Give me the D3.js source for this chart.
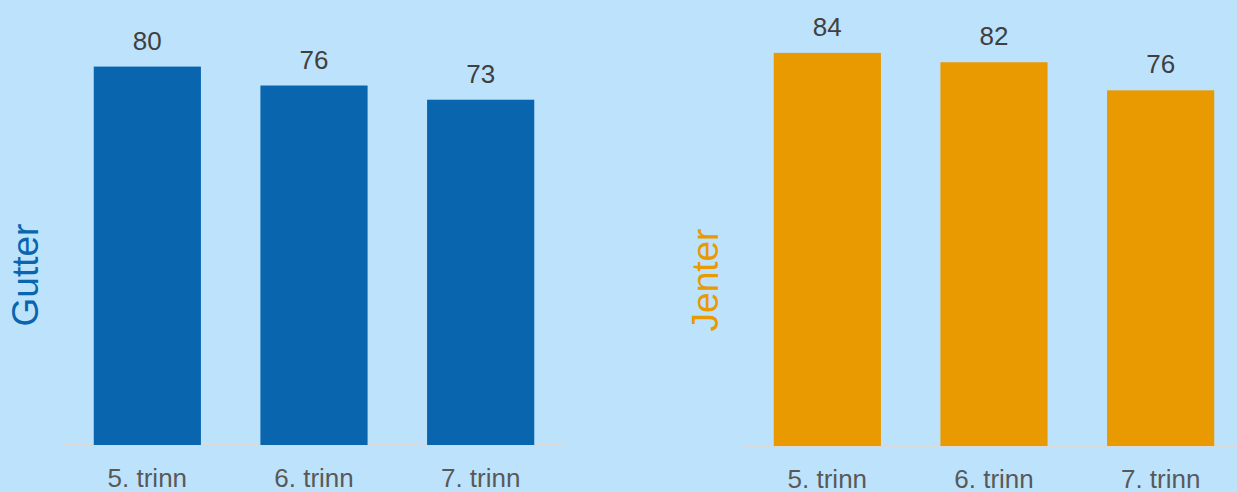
<!DOCTYPE html>
<html>
<head>
<meta charset="utf-8">
<script src="https://cdn.jsdelivr.net/npm/d3@7"></script>
<style>
  body { margin: 0; background: #bde3fc; }
  svg { display: block; font-family: "Liberation Sans", Arial, sans-serif; }
</style>
</head>
<body>
<div id="chart"></div>
<script>
const categories = ["5. trinn", "6. trinn", "7. trinn"]
const gutterValues = [80, 76, 73]
const jenterValues = [84, 82, 76]

const W = 1237, H = 492

let svg = d3.select("#chart").append("svg")
  .attr("width", W)
  .attr("height", H)

svg.append("rect")
  .attr("width", W).attr("height", H)
  .attr("fill", "#bde3fc")

function panel(values, opts) {
  let g = svg.append("g")

  let xScale = d3.scaleBand()
    .domain(categories)
    .range(opts.xRange)
    .paddingInner(0.357)
    .paddingOuter(0.1785)

  let yScale = d3.scaleLinear()
    .domain([0, 100])
    .range([opts.base, opts.base - opts.pxPer100])

  // baseline axis
  let xAxis = d3.axisBottom(xScale).tickSize(0).tickPadding(24)
  let ax = g.append("g")
    .attr("transform", "translate(0," + opts.base + ")")
    .call(xAxis)
  ax.select(".domain").attr("stroke", "#d9d9d9").attr("stroke-width", 2)
    .attr("d", "M" + opts.lineX[0] + ",0H" + opts.lineX[1])
  ax.selectAll("text")
    .attr("fill", "#595959")
    .attr("font-size", 26)
    .attr("font-family", "'Liberation Sans', Arial, sans-serif")

  g.selectAll(".bar")
    .data(values)
    .enter().append("rect")
    .attr("class", "bar")
    .attr("x", (d, i) => xScale(categories[i]))
    .attr("width", xScale.bandwidth())
    .attr("y", d => yScale(d))
    .attr("height", d => opts.base - yScale(d))
    .attr("fill", opts.color)

  g.selectAll(".val")
    .data(values)
    .enter().append("text")
    .attr("class", "val")
    .attr("x", (d, i) => xScale(categories[i]) + xScale.bandwidth() / 2)
    .attr("y", d => yScale(d) - 17)
    .attr("text-anchor", "middle")
    .attr("font-size", 26)
    .attr("fill", "#404040")
    .text(d => d)

  g.append("text")
    .attr("transform", "translate(" + opts.titleX + "," + opts.titleY + ") rotate(-90)")
    .attr("text-anchor", "middle")
    .attr("font-size", 37)
    .attr("fill", opts.color)
    .text(opts.title)
}

panel(gutterValues, {
  xRange: [64, 564], lineX: [64, 566], base: 445, pxPer100: 473,
  color: "#0865ae", title: "Gutter", titleX: 38, titleY: 275
})

panel(jenterValues, {
  xRange: [744, 1244], lineX: [744, 1237], base: 446, pxPer100: 468,
  color: "#e89a00", title: "Jenter", titleX: 718, titleY: 280
})
</script>
</body>
</html>
